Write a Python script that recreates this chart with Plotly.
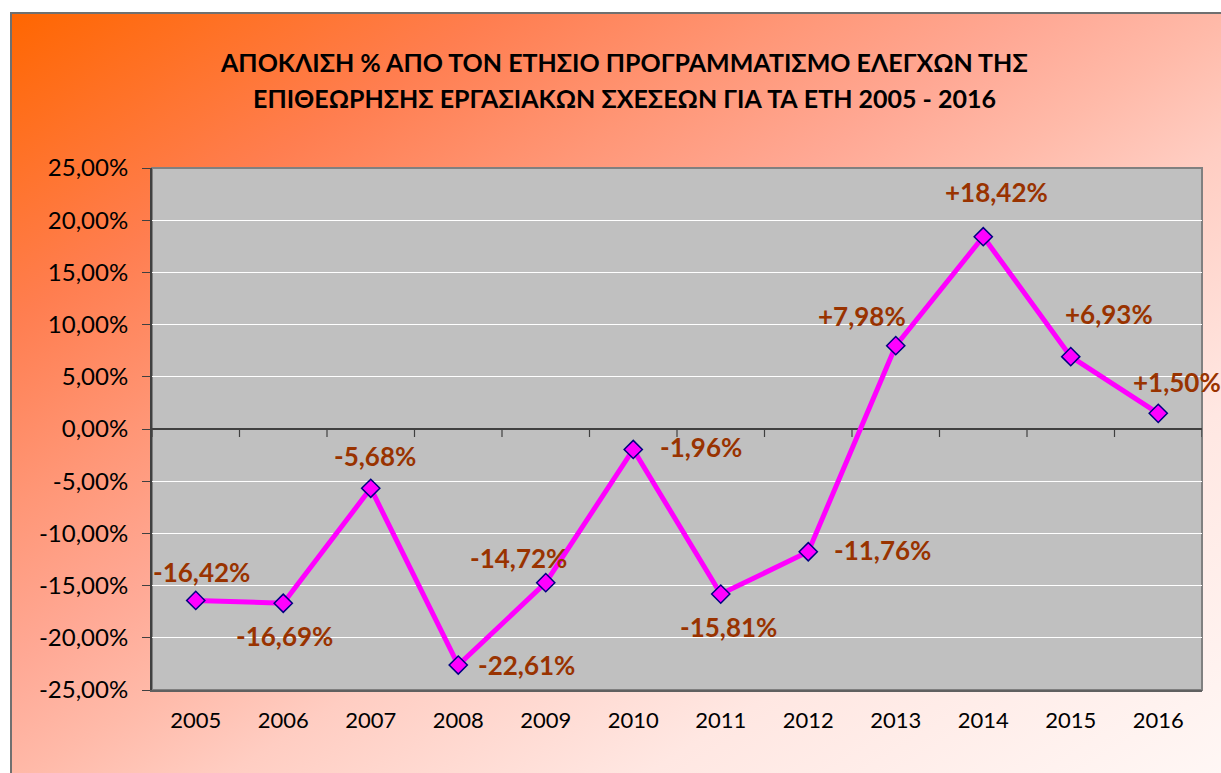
import base64
import plotly.graph_objects as go

# ---- data ----
years = ["2005", "2006", "2007", "2008", "2009", "2010",
         "2011", "2012", "2013", "2014", "2015", "2016"]
deviation_pct = [-16.42, -16.69, -5.68, -22.61, -14.72, -1.96,
                 -15.81, -11.76, 7.98, 18.42, 6.93, 1.50]
y_tick_vals = [-25, -20, -15, -10, -5, 0, 5, 10, 15, 20, 25]
y_tick_text = ["-25,00%", "-20,00%", "-15,00%", "-10,00%", "-5,00%", "0,00%",
               "5,00%", "10,00%", "15,00%", "20,00%", "25,00%"]
title_line1 = "ΑΠΟΚΛΙΣΗ % ΑΠΟ ΤΟΝ ΕΤΗΣΙΟ ΠΡΟΓΡΑΜΜΑΤΙΣΜΟ ΕΛΕΓΧΩΝ ΤΗΣ"
title_line2 = "ΕΠΙΘΕΩΡΗΣΗΣ ΕΡΓΑΣΙΑΚΩΝ ΣΧΕΣΕΩΝ ΓΙΑ ΤΑ ΕΤΗ 2005 - 2016"

# label offsets in pixels (style)
label_dx = [6, 1, 4, 68, -27, 68, 8, 74, -34, 13, 38, 19]
label_dy = [28, -33, 32, 0, 25, 2, -33, 2, 30, 45, 43, 31]

W, H = 1221, 773
L, R, T, B = 152, 1202, 168, 690
pw, ph = R - L, B - T

FONT = "Lato, 'Open Sans', 'DejaVu Sans', sans-serif"

BGW, BGH = 1230, 775
svg = f'''<svg xmlns="http://www.w3.org/2000/svg" width="{BGW}" height="{BGH}" preserveAspectRatio="none" viewBox="0 0 {BGW} {BGH}">
<defs><linearGradient id="g" x1="0" y1="0" x2="1" y2="1">
<stop offset="0" stop-color="#FF6600"/>
<stop offset="0.20" stop-color="#FF7E50"/>
<stop offset="0.32" stop-color="#FF9676"/>
<stop offset="0.42" stop-color="#FFA894"/>
<stop offset="0.50" stop-color="#FFBAA9"/>
<stop offset="0.58" stop-color="#FFCDC2"/>
<stop offset="0.75" stop-color="#FFE7E2"/>
<stop offset="1" stop-color="#FFF8F6"/>
</linearGradient></defs>
<rect x="0" y="0" width="{BGW}" height="{BGH}" fill="url(#g)" stroke="#707070" stroke-width="4"/>
</svg>'''
svg_uri = "data:image/svg+xml;base64," + base64.b64encode(svg.encode("utf-8")).decode()

def label(v):
    s = f"{abs(v):.2f}".replace(".", ",") + "%"
    return ("+" if v > 0 else "-") + s

fig = go.Figure()
fig.add_trace(go.Scatter(
    x=list(range(len(years))), y=deviation_pct, mode="lines+markers",
    line=dict(color="#FF00FF", width=5),
    marker=dict(symbol="diamond", size=14, color="#FF00FF",
                line=dict(color="#000080", width=1.5)),
    hoverinfo="skip", showlegend=False, cliponaxis=False,
))

annotations = []
for i, v in enumerate(deviation_pct):
    annotations.append(dict(
        x=i, y=v, xref="x", yref="y", text=label(v), showarrow=False,
        xanchor="center", yanchor="middle",
        xshift=label_dx[i], yshift=label_dy[i],
        font=dict(family=FONT, size=26, color="#993300", weight="bold"),
    ))
cx = (624 - L) / pw
annotations.append(dict(x=cx, y=1 + (T - 62) / ph, xref="paper", yref="paper",
                        xanchor="center", yanchor="middle",
                        text=f"<b>{title_line1}</b>", showarrow=False,
                        font=dict(family=FONT, size=25, color="black")))
annotations.append(dict(x=cx, y=1 + (T - 98) / ph, xref="paper", yref="paper",
                        xanchor="center", yanchor="middle",
                        text=f"<b>{title_line2}</b>", showarrow=False,
                        font=dict(family=FONT, size=25, color="black")))

shapes = [dict(type="rect", xref="paper", yref="paper", x0=0, x1=1, y0=0, y1=1,
               fillcolor="#C0C0C0", line=dict(color="#808080", width=2), layer="below")]
for k in range(len(years) + 1):
    shapes.append(dict(type="line", xref="x", yref="y", x0=k - 0.5, x1=k - 0.5,
                       ysizemode="pixel", yanchor=0, y0=0, y1=-8,
                       line=dict(color="#404040", width=1.2), layer="above"))

fig.update_layout(
    width=W, height=H,
    margin=dict(l=L, r=W - R, t=T, b=H - B, pad=0),
    paper_bgcolor="white", plot_bgcolor="rgba(0,0,0,0)",
    images=[dict(source=svg_uri, xref="paper", yref="paper",
                 x=(10 - L) / pw, y=1 + (T - 12) / ph,
                 sizex=BGW / pw, sizey=BGH / ph,
                 xanchor="left", yanchor="top", sizing="stretch", layer="below")],
    shapes=shapes,
    annotations=annotations,
    xaxis=dict(range=[-0.5, len(years) - 0.5], tickvals=list(range(len(years))),
               ticktext=years, ticks="outside", ticklen=10,
               tickcolor="rgba(0,0,0,0)", showgrid=False, zeroline=False,
               showline=True, linecolor="#606060", linewidth=2,
               tickfont=dict(family=FONT, size=22, color="black"), fixedrange=True),
    yaxis=dict(range=[-25, 25], tickvals=y_tick_vals, ticktext=y_tick_text,
               ticks="outside", ticklen=8, tickcolor="#404040", tickwidth=1.2,
               ticklabelstandoff=9,
               showgrid=True, gridcolor="white", gridwidth=1.2,
               zeroline=True, zerolinecolor="#404040", zerolinewidth=1.5,
               showline=True, linecolor="#404040", linewidth=2,
               tickfont=dict(family=FONT, size=24, color="black"), fixedrange=True),
)

fig.write_html("out.html", config={"displayModeBar": False},
               post_script="document.body.style.margin='0';document.body.style.overflow='hidden';")
